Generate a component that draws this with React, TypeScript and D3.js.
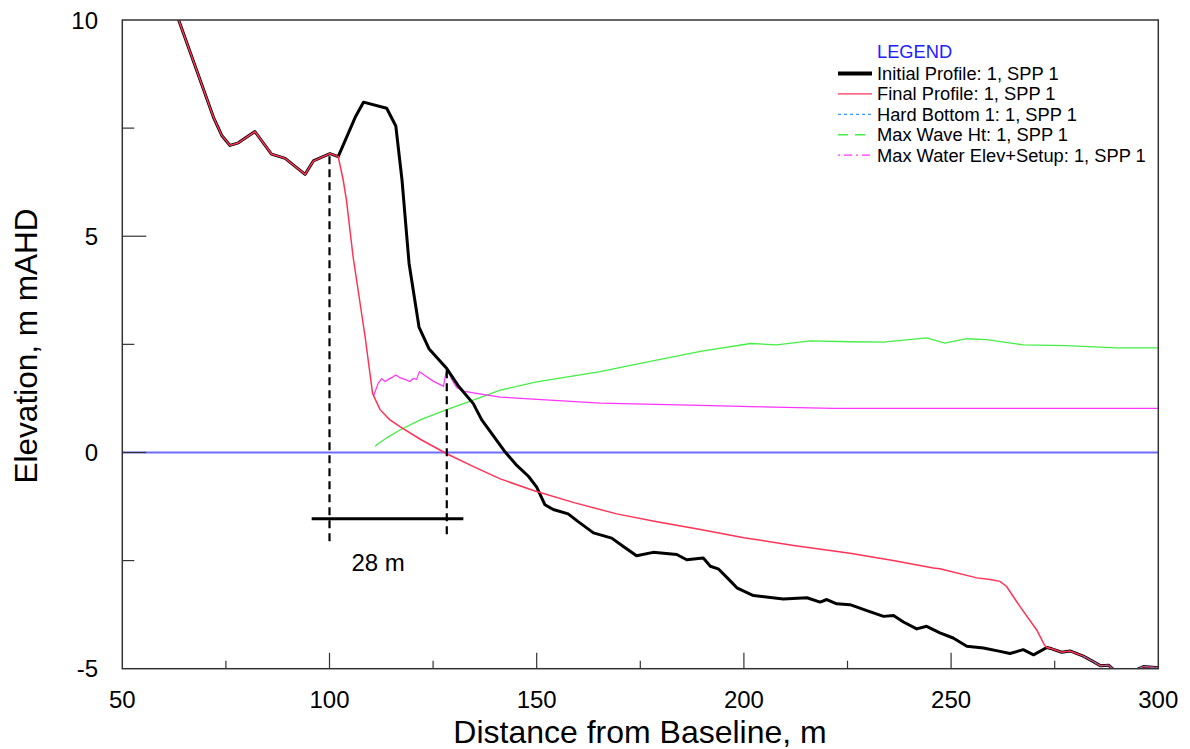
import React from "react";
import * as d3 from "d3";

// ---- data ----
const initialProfile: [number, number][] = [
  [62.0, 10.65], [63.6, 10.0], [72.0, 7.75], [74.0, 7.33], [76.0, 7.1], [78.0, 7.16],
  [82.0, 7.42], [86.0, 6.9], [89.3, 6.8], [94.1, 6.43], [96.1, 6.74], [100.1, 6.91],
  [102.1, 6.84], [106.2, 7.75], [108.2, 8.1], [113.8, 7.96], [116.0, 7.55], [117.5, 6.3],
  [119.2, 4.37], [121.6, 2.9], [124.0, 2.4], [128.3, 1.94], [131.0, 1.55], [134.7, 1.13],
  [136.7, 0.76], [142.4, 0.01], [145.0, -0.28], [148.0, -0.55], [150.0, -0.8], [152.0, -1.21],
  [154.0, -1.32], [157.6, -1.42], [160.0, -1.6], [163.7, -1.86], [168.1, -1.98], [171.0, -2.18],
  [174.1, -2.39], [178.1, -2.31], [183.8, -2.36], [186.2, -2.48], [190.2, -2.44], [191.9, -2.63],
  [193.8, -2.69], [196.0, -2.9], [198.3, -3.13], [202.3, -3.31], [209.5, -3.39], [215.2, -3.36],
  [218.4, -3.46], [220.0, -3.4], [222.4, -3.5], [225.6, -3.52], [229.5, -3.65], [233.7, -3.79],
  [236.1, -3.77], [238.5, -3.92], [241.7, -4.08], [244.1, -4.02], [247.3, -4.17], [250.5, -4.29],
  [253.8, -4.48], [257.8, -4.52], [261.8, -4.6], [264.2, -4.65], [267.4, -4.56], [269.9, -4.68],
  [273.1, -4.51], [274.3, -4.54], [276.7, -4.62], [278.7, -4.59], [281.9, -4.71], [284.0, -4.82],
  [286.0, -4.93], [288.0, -4.92], [289.2, -5.02], [294.8, -5.02], [296.4, -4.95], [300.0, -4.98],
];

const finalProfile: [number, number][] = [
  [62.0, 10.65], [63.6, 10.0], [72.0, 7.75], [74.0, 7.33], [76.0, 7.1], [78.0, 7.16],
  [82.0, 7.42], [86.0, 6.9], [89.3, 6.8], [94.1, 6.43], [96.1, 6.74], [100.1, 6.91],
  [102.1, 6.84], [103.3, 6.3], [104.1, 5.83], [105.7, 4.52], [108.6, 2.67], [110.4, 1.36],
  [112.2, 0.99], [114.5, 0.76], [117.0, 0.6], [122.0, 0.3], [128.3, -0.03], [135.0, -0.34],
  [141.2, -0.61], [149.2, -0.88], [159.0, -1.16], [169.3, -1.42], [179.0, -1.6], [189.5, -1.78],
  [200.0, -1.97], [212.0, -2.15], [225.6, -2.33], [236.0, -2.5], [245.7, -2.67], [247.3, -2.69],
  [256.2, -2.9], [259.4, -2.94], [261.8, -2.98], [263.4, -3.1], [266.6, -3.56], [270.7, -4.11],
  [272.5, -4.45], [273.1, -4.51], [274.3, -4.54], [276.7, -4.62], [278.7, -4.59], [281.9, -4.71],
  [284.0, -4.82], [286.0, -4.93], [288.0, -4.92], [289.2, -5.02], [294.8, -5.02], [296.4, -4.95],
  [300.0, -4.98],
];

const hardBottom: [number, number][] = [
  [281.9, -4.71], [284.0, -4.82], [286.0, -4.93], [288.0, -4.92], [289.2, -5.02],
  [294.8, -5.02], [296.4, -4.95], [300.0, -4.98],
];

const maxWaveHt: [number, number][] = [
  [111.0, 0.14], [111.4, 0.18], [114.0, 0.35], [117.0, 0.52], [122.0, 0.76], [128.3, 0.99],
  [135.0, 1.22], [141.2, 1.44], [150.0, 1.63], [165.3, 1.87], [175.0, 2.06], [189.5, 2.34],
  [201.6, 2.52], [207.9, 2.49], [216.0, 2.58], [225.6, 2.56], [233.7, 2.55], [244.1, 2.65],
  [248.5, 2.53], [253.8, 2.63], [258.6, 2.61], [267.4, 2.49], [277.8, 2.47], [289.9, 2.42],
  [300.0, 2.42],
];

const maxWaterElev: [number, number][] = [
  [110.6, 1.3], [111.8, 1.61], [112.6, 1.71], [113.4, 1.64], [114.2, 1.69], [115.0, 1.73],
  [116.0, 1.79], [117.0, 1.73], [118.2, 1.69], [119.4, 1.64], [120.2, 1.71], [121.0, 1.69],
  [121.7, 1.87], [122.6, 1.81], [125.0, 1.65], [127.5, 1.53], [128.1, 1.84], [128.7, 1.88],
  [129.5, 1.69], [130.7, 1.5], [132.3, 1.42], [134.7, 1.38], [141.2, 1.28], [165.3, 1.14],
  [189.5, 1.09], [201.6, 1.06], [221.6, 1.02], [240.0, 1.02], [300.0, 1.02],
];

const xMajorTicks = [50, 100, 150, 200, 250, 300];
const xMinorTicks = [75, 125, 175, 225, 275];
const yMajorTicks = [-5, 0, 5, 10];
const yMinorTicks = [-2.5, 2.5, 7.5];

const legendItems = [
  { label: "Initial Profile: 1, SPP 1", color: "#000000", width: 4, dash: "" },
  { label: "Final Profile: 1, SPP 1", color: "#ff3355", width: 1.2, dash: "" },
  { label: "Hard Bottom 1: 1, SPP 1", color: "#3399ff", width: 1.2, dash: "3,3" },
  { label: "Max Wave Ht: 1, SPP 1", color: "#44ee44", width: 1.5, dash: "10,7" },
  { label: "Max Water Elev+Setup: 1, SPP 1", color: "#ff33ff", width: 1.2, dash: "2,4,8,4" },
];

// annotation values
const annotLeftX = 100;
const annotRightX = 128.3;
const annotBarY = -1.535;
const annotLabel = "28 m";

export default function App() {
  const W = 1190;
  const H = 749;
  const left = 122.3, right = 1158.3, top = 20, bottom = 668.7;
  const x = d3.scaleLinear().domain([50, 300]).range([left, right]);
  const y = d3.scaleLinear().domain([-5, 10]).range([bottom, top]);
  const line = d3.line<[number, number]>().x((d) => x(d[0])).y((d) => y(d[1]));
  const font = "'Liberation Sans', Arial, sans-serif";

  return (
    <svg
      width={W}
      height={H}
      style={{ position: "absolute", left: 0, top: 0, background: "#fff" }}
      fontFamily={font}
    >
      <defs>
        <clipPath id="plotclip">
          <rect x={left} y={top} width={right - left} height={bottom - top} />
        </clipPath>
      </defs>

      {/* zero line */}
      <line x1={x(50)} x2={x(300)} y1={y(0)} y2={y(0)} stroke="#6f6fff" strokeWidth={2} />

      <g clipPath="url(#plotclip)" fill="none">
        <path d={line(maxWaveHt) || ""} stroke="#44ee44" strokeWidth={1.3} />
        <path d={line(maxWaterElev) || ""} stroke="#ff33ff" strokeWidth={1.2} />
        <path d={line(initialProfile) || ""} stroke="#000" strokeWidth={3} strokeLinejoin="round" />
        <path d={line(finalProfile) || ""} stroke="#ff3355" strokeWidth={1.5} />
        <path d={line(hardBottom) || ""} stroke="#3399ff" strokeWidth={1} strokeDasharray="3,3" />
      </g>

      {/* annotation */}
      <line x1={x(annotLeftX)} x2={x(annotLeftX)} y1={y(6.85)} y2={y(-2.13)} stroke="#000" strokeWidth={2.2} strokeDasharray="8,5" />
      <line x1={x(annotRightX)} x2={x(annotRightX)} y1={y(1.9)} y2={y(-2.0)} stroke="#000" strokeWidth={2.2} strokeDasharray="8,5" />
      <line x1={x(95.7)} x2={x(132.3)} y1={y(annotBarY)} y2={y(annotBarY)} stroke="#000" strokeWidth={3} />
      <text x={x(105.3)} y={y(-2.75)} fontSize={24} fill="#000">{annotLabel}</text>

      {/* frame */}
      <rect x={left} y={top} width={right - left} height={bottom - top} fill="none" stroke="#333" strokeWidth={1.5} />

      {/* x ticks */}
      {xMajorTicks.map((t) => (
        <g key={"xM" + t}>
          {t > 50 && t < 300 && (
            <line x1={x(t)} x2={x(t)} y1={bottom} y2={bottom - 16} stroke="#333" strokeWidth={1.2} />
          )}
          <text x={x(t)} y={708} fontSize={24} textAnchor="middle" fill="#000">{t}</text>
        </g>
      ))}
      {xMinorTicks.map((t) => (
        <line key={"xm" + t} x1={x(t)} x2={x(t)} y1={bottom} y2={bottom - 8} stroke="#333" strokeWidth={1.2} />
      ))}

      {/* y ticks */}
      {yMajorTicks.map((t) => (
        <g key={"yM" + t}>
          {t > -5 && t < 10 && (
            <line x1={left} x2={left + 24} y1={y(t)} y2={y(t)} stroke="#333" strokeWidth={1.2} />
          )}
          <text x={98} y={y(t) + 8.5} fontSize={24} textAnchor="end" fill="#000">{t}</text>
        </g>
      ))}
      {yMinorTicks.map((t) => (
        <line key={"ym" + t} x1={left} x2={left + 12} y1={y(t)} y2={y(t)} stroke="#333" strokeWidth={1.2} />
      ))}

      {/* axis titles */}
      <text x={640} y={743} fontSize={32} textAnchor="middle" fill="#000">Distance from Baseline, m</text>
      <text transform="translate(37,346) rotate(-90)" fontSize={31.5} textAnchor="middle" fill="#000">Elevation, m mAHD</text>

      {/* legend */}
      <text x={877} y={57.5} fontSize={18.3} fill="#2222ff">LEGEND</text>
      {legendItems.map((it, i) => {
        const by = 80 + i * 20.4;
        return (
          <g key={it.label}>
            <line x1={838} x2={872} y1={by - 6.5} y2={by - 6.5} stroke={it.color} strokeWidth={it.width} strokeDasharray={it.dash} />
            <text x={877} y={by} fontSize={18.3} fill="#000">{it.label}</text>
          </g>
        );
      })}
    </svg>
  );
}
